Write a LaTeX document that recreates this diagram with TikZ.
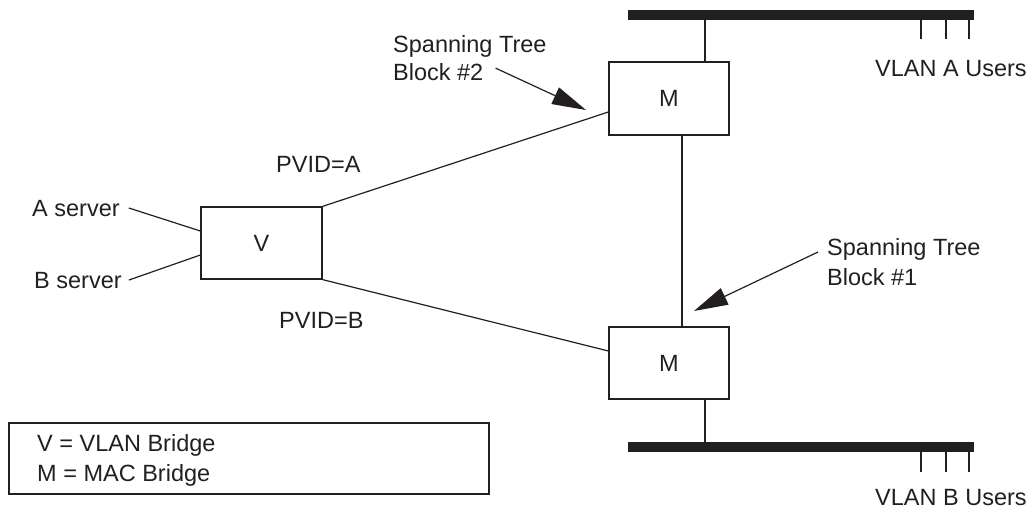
\documentclass[tikz,border=0pt]{standalone}
\usepackage{fontspec}
\setmainfont{Liberation Sans}
\usetikzlibrary{arrows.meta}
\definecolor{ink}{HTML}{231F20}
\begin{document}
\begin{tikzpicture}[x=1pt,y=-1pt,
  every node/.style={font=\fontsize{23.5}{27}\selectfont, text=ink},
  lbl/.style={anchor=base west, inner sep=0pt},
  bridge/.style={draw=ink, line width=1.3pt, rectangle, inner sep=0pt, fill=white},
  bus/.style={fill=ink, rectangle, inner sep=0pt, minimum width=346pt, minimum height=10pt},
  wire/.style={draw=ink, line width=1.2pt},
  pointer/.style={draw=ink, line width=1.2pt, -{Triangle[length=34pt,width=18pt]}}
]
\useasboundingbox (0,0) rectangle (1031,508);

% buses
\node[bus] (busA) at (801,15) {};
\node[bus] (busB) at (801,447) {};

% bridges
\node[bridge, minimum width=120pt, minimum height=73pt] (mA) at (669,98.5) {M};
\node[bridge, minimum width=120pt, minimum height=72pt] (mB) at (669,363) {M};
\node[bridge, minimum width=121pt, minimum height=72pt] (v) at (261.5,243) {V};

% links to buses
\draw[wire] ([xshift=36pt]mA.north) -- ([xshift=36pt]mA.north |- busA.south);
\draw[wire] ([xshift=36pt]mB.south) -- ([xshift=36pt]mB.south |- busB.north);
\draw[wire] ([xshift=13pt]mA.south) -- ([xshift=13pt]mB.north);

% V to M links
\draw[wire] (v.north east) -- ([yshift=-13.5pt]mA.west);
\draw[wire] (v.south east) -- ([yshift=12pt]mB.west);

% user ticks
\foreach \x/\n in {921/a1,946/a2,969/a3}{
  \coordinate (t\n) at (\x,39);
  \draw[wire] (t\n |- busA.south) -- (t\n);
}
\foreach \x/\n in {921/b1,946/b2,969/b3}{
  \coordinate (t\n) at (\x,472);
  \draw[wire] (t\n |- busB.south) -- (t\n);
}
\node[lbl] (usersA) at (875,76.5) {VLAN A Users};
\node[lbl] (usersB) at (875,505) {VLAN B Users};

% servers
\node[lbl] (aserv) at (32,216) {A server};
\node[lbl] (bserv) at (34,288) {B server};
\draw[wire] ([xshift=9pt]aserv.east) -- ([yshift=12pt]v.west);
\draw[wire] ([xshift=7pt]bserv.east) -- ([yshift=-12pt]v.west);

% PVID labels
\node[lbl] (pvidA) at (276,172) {PVID=A};
\node[lbl] (pvidB) at (279,328) {PVID=B};

% spanning tree blocks
\node[lbl] (st2a) at (393,53) {Spanning Tree};
\node[lbl] (st2b) at (393,80.5) {Block \#2};
\coordinate (tip2) at (586,110);
\draw[pointer] ([xshift=12pt,yshift=4pt]st2b.east) -- (tip2);

\node[lbl] (st1a) at (827,255) {Spanning Tree};
\node[lbl] (st1b) at (827,285) {Block \#1};
\coordinate (tip1) at (694,311);
\coordinate (tail1) at (818,252);
\draw[pointer] (tail1) -- (tip1);

% legend
\node[draw=ink, line width=1.3pt, rectangle, minimum width=480pt, minimum height=71pt, inner sep=0pt] (legend) at (249,458.5) {};
\node[lbl] (legV) at (37,451) {V = VLAN Bridge};
\node[lbl] (legM) at (37,481) {M = MAC Bridge};
\end{tikzpicture}
\end{document}
